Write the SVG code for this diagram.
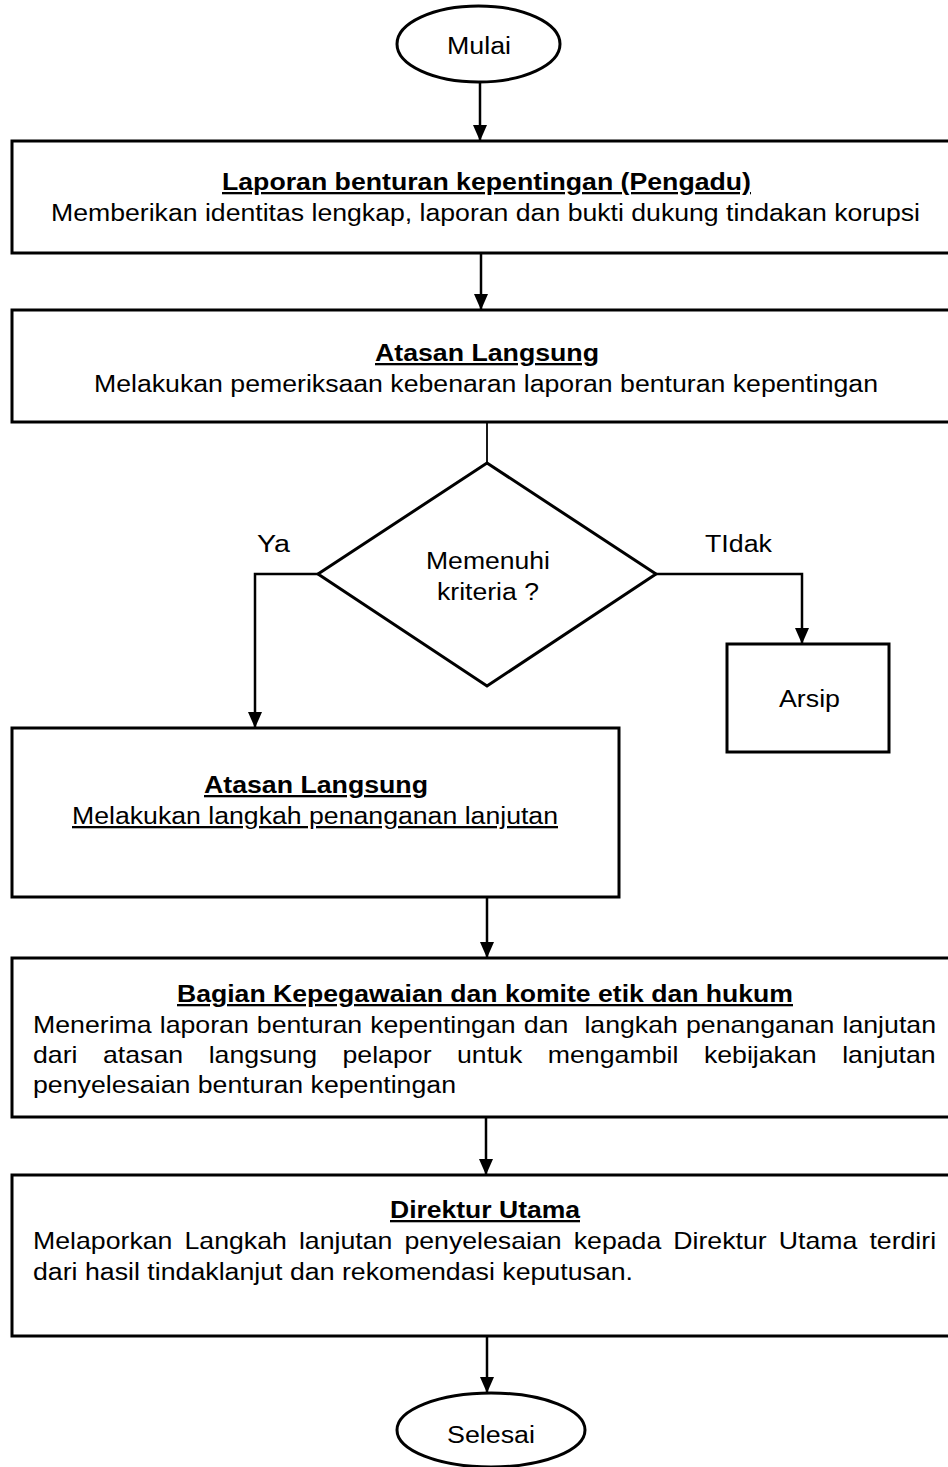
<svg xmlns="http://www.w3.org/2000/svg" width="948" height="1467" viewBox="0 0 948 1467">
<defs>
<style>
text{font-family:"Liberation Sans",Arial,sans-serif;font-size:23px;fill:#000}
.t{font-weight:bold;text-decoration:underline}
.u{text-decoration:underline}
.box{fill:#fff;stroke:#000;stroke-width:3}
.ln{fill:none;stroke:#000;stroke-width:2.5}
</style>
<marker id="ah" markerUnits="userSpaceOnUse" markerWidth="16" markerHeight="14" refX="16" refY="7" orient="auto" viewBox="0 0 16 14">
<path d="M0,0 L16,7 L0,14 z" fill="#000"/>
</marker>
</defs>
<rect width="948" height="1467" fill="#fff"/>
<g id="connectors">
<line class="ln" x1="480" y1="82" x2="480" y2="141" marker-end="url(#ah)"/>
<line class="ln" x1="481" y1="253" x2="481" y2="310" marker-end="url(#ah)"/>
<line class="ln" x1="487" y1="422" x2="487" y2="463" style="stroke-width:1.8"/>
<polyline class="ln" points="318,574 255,574 255,728" marker-end="url(#ah)"/>
<polyline class="ln" points="656,574 802,574 802,644" marker-end="url(#ah)"/>
<line class="ln" x1="487" y1="897" x2="487" y2="958" marker-end="url(#ah)"/>
<line class="ln" x1="486" y1="1117" x2="486" y2="1175" marker-end="url(#ah)"/>
<line class="ln" x1="487" y1="1336" x2="487" y2="1393" marker-end="url(#ah)"/>
</g>
<g id="mulai">
<ellipse class="box" cx="478.5" cy="44" rx="81.5" ry="38"/>
<text x="447" y="54" textLength="64" lengthAdjust="spacingAndGlyphs">Mulai</text>
</g>
<g id="laporan">
<rect class="box" x="12" y="141" width="950" height="112"/>
<text class="t" x="222" y="190" textLength="529" lengthAdjust="spacingAndGlyphs">Laporan benturan kepentingan (Pengadu)</text>
<text x="51" y="221" textLength="869" lengthAdjust="spacingAndGlyphs">Memberikan identitas lengkap, laporan dan bukti dukung tindakan korupsi</text>
</g>
<g id="atasan1">
<rect class="box" x="12" y="310" width="950" height="112"/>
<text class="t" x="375" y="361" textLength="224" lengthAdjust="spacingAndGlyphs">Atasan Langsung</text>
<text x="94" y="392" textLength="784" lengthAdjust="spacingAndGlyphs">Melakukan pemeriksaan kebenaran laporan benturan kepentingan</text>
</g>
<g id="keputusan">
<polygon class="box" points="487,463 656,574 487,686 318,574"/>
<text x="426" y="569" textLength="124" lengthAdjust="spacingAndGlyphs">Memenuhi</text>
<text x="437" y="600" textLength="102" lengthAdjust="spacingAndGlyphs">kriteria ?</text>
</g>
<g id="label-ya"><text x="257" y="552" textLength="33" lengthAdjust="spacingAndGlyphs">Ya</text></g>
<g id="label-tidak"><text x="705" y="552" textLength="67" lengthAdjust="spacingAndGlyphs">TIdak</text></g>
<g id="arsip">
<rect class="box" x="727" y="644" width="162" height="108"/>
<text x="779" y="707" textLength="61" lengthAdjust="spacingAndGlyphs">Arsip</text>
</g>
<g id="atasan2">
<rect class="box" x="12" y="728" width="607" height="169"/>
<text class="t" x="204" y="793" textLength="224" lengthAdjust="spacingAndGlyphs">Atasan Langsung</text>
<text class="u" x="72" y="824" textLength="486" lengthAdjust="spacingAndGlyphs">Melakukan langkah penanganan lanjutan</text>
</g>
<g id="kepegawaian">
<rect class="box" x="12" y="958" width="950" height="159"/>
<text class="t" x="177" y="1002" textLength="616" lengthAdjust="spacingAndGlyphs">Bagian Kepegawaian dan komite etik dan hukum</text>
<text transform="scale(1.1609 1)" y="1033"><tspan x="28.43">Menerima</tspan><tspan x="137.57">laporan</tspan><tspan x="221.21">benturan</tspan><tspan x="318.89">kepentingan</tspan><tspan x="451.20">dan</tspan><tspan x="503.40">langkah</tspan><tspan x="590.93">penanganan</tspan><tspan x="725.73">lanjutan</tspan></text>
<text transform="scale(1.1609 1)" y="1063"><tspan x="28.43">dari</tspan><tspan x="88.72">atasan</tspan><tspan x="179.77">langsung</tspan><tspan x="295.03">pelapor</tspan><tspan x="393.66">untuk</tspan><tspan x="471.88">mengambil</tspan><tspan x="606.34">kebijakan</tspan><tspan x="725.47">lanjutan</tspan></text>
<text x="33" y="1093" textLength="423" lengthAdjust="spacingAndGlyphs">penyelesaian benturan kepentingan</text>
</g>
<g id="direktur">
<rect class="box" x="12" y="1175" width="950" height="161"/>
<text class="t" x="390" y="1218" textLength="190" lengthAdjust="spacingAndGlyphs">Direktur Utama</text>
<text transform="scale(1.1609 1)" y="1249"><tspan x="28.43">Melaporkan</tspan><tspan x="158.93">Langkah</tspan><tspan x="257.47">lanjutan</tspan><tspan x="348.35">penyelesaian</tspan><tspan x="494.19">kepada</tspan><tspan x="579.98">Direktur</tspan><tspan x="670.86">Utama</tspan><tspan x="748.90">terdiri</tspan></text>
<text x="33" y="1280" textLength="600" lengthAdjust="spacingAndGlyphs">dari hasil tindaklanjut dan rekomendasi keputusan.</text>
</g>
<g id="selesai">
<ellipse class="box" cx="491" cy="1430" rx="94" ry="37"/>
<text x="447" y="1443" textLength="88" lengthAdjust="spacingAndGlyphs">Selesai</text>
</g>
</svg>
